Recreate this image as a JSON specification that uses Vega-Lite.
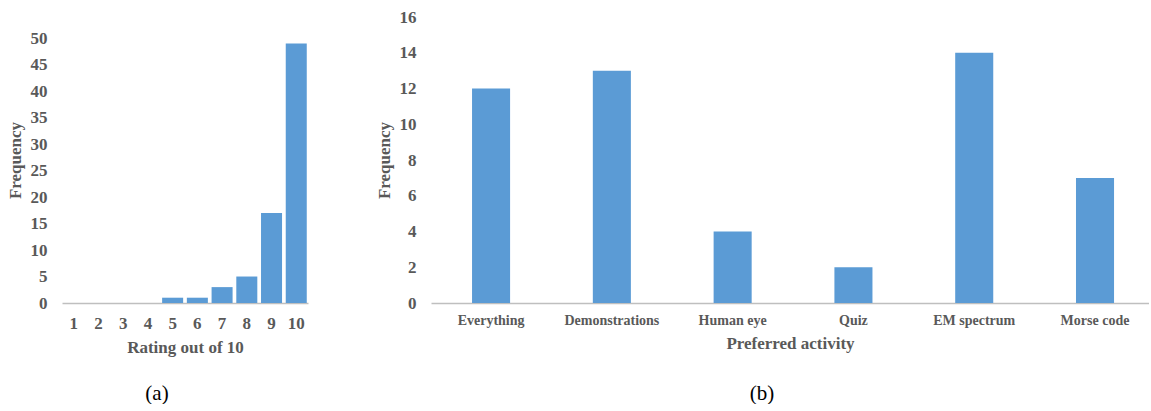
{
  "$schema": "https://vega.github.io/schema/vega-lite/v6.json",
  "background": "white",
  "padding": {"left": 6, "top": 8, "right": 0, "bottom": 0},
  "spacing": 67,
  "config": {
    "view": {"stroke": null},
    "axis": {
      "labelFont": "Liberation Serif",
      "titleFont": "Liberation Serif",
      "labelFontWeight": "bold",
      "titleFontWeight": "bold",
      "labelColor": "#595959",
      "titleColor": "#595959",
      "grid": false,
      "ticks": false
    },
    "title": {"font": "Liberation Serif", "fontSize": 21, "fontWeight": "normal", "color": "#000000"}
  },
  "hconcat": [
    {
      "width": 246,
      "height": 286,
      "title": {"text": "(a)", "orient": "bottom", "frame": "bounds", "anchor": "middle", "offset": 28},
      "data": {"values": [
        {"rating": "1", "frequency": 0},
        {"rating": "2", "frequency": 0},
        {"rating": "3", "frequency": 0},
        {"rating": "4", "frequency": 0},
        {"rating": "5", "frequency": 1},
        {"rating": "6", "frequency": 1},
        {"rating": "7", "frequency": 3},
        {"rating": "8", "frequency": 5},
        {"rating": "9", "frequency": 17},
        {"rating": "10", "frequency": 49}
      ]},
      "mark": {"type": "bar", "color": "#5B9BD5"},
      "encoding": {
        "x": {
          "field": "rating", "type": "ordinal", "sort": null,
          "scale": {"paddingInner": 0.15, "paddingOuter": 0.05},
          "axis": {"title": "Rating out of 10", "labelAngle": 0, "labelFontSize": 17, "titleFontSize": 17, "domainColor": "#BFBFBF", "domainWidth": 1.5, "labelPadding": 12, "titlePadding": 8}
        },
        "y": {
          "field": "frequency", "type": "quantitative",
          "scale": {"domain": [0, 54], "nice": false},
          "axis": {"values": [0, 5, 10, 15, 20, 25, 30, 35, 40, 45, 50], "domain": false, "labelFontSize": 17, "titleFontSize": 17, "labelPadding": 15, "title": "Frequency", "titlePadding": 6}
        }
      }
    },
    {
      "width": 718,
      "height": 286,
      "title": {"text": "(b)", "orient": "bottom", "frame": "bounds", "anchor": "middle", "offset": 32},
      "data": {"values": [
        {"activity": "Everything", "frequency": 12},
        {"activity": "Demonstrations", "frequency": 13},
        {"activity": "Human eye", "frequency": 4},
        {"activity": "Quiz", "frequency": 2},
        {"activity": "EM spectrum", "frequency": 14},
        {"activity": "Morse code", "frequency": 7}
      ]},
      "mark": {"type": "bar", "color": "#5B9BD5"},
      "encoding": {
        "x": {
          "field": "activity", "type": "nominal", "sort": null,
          "scale": {"paddingInner": 0.685, "paddingOuter": 0.3146, "align": 0.54},
          "axis": {"title": "Preferred activity", "labelAngle": 0, "labelFontSize": 14, "titleFontSize": 17, "domainColor": "#BFBFBF", "domainWidth": 1.5, "labelPadding": 10, "titlePadding": 8}
        },
        "y": {
          "field": "frequency", "type": "quantitative",
          "scale": {"domain": [0, 16], "nice": false},
          "axis": {"values": [0, 2, 4, 6, 8, 10, 12, 14, 16], "domain": false, "labelFontSize": 17, "titleFontSize": 17, "labelPadding": 15, "title": "Frequency", "titlePadding": 6}
        }
      }
    }
  ]
}
